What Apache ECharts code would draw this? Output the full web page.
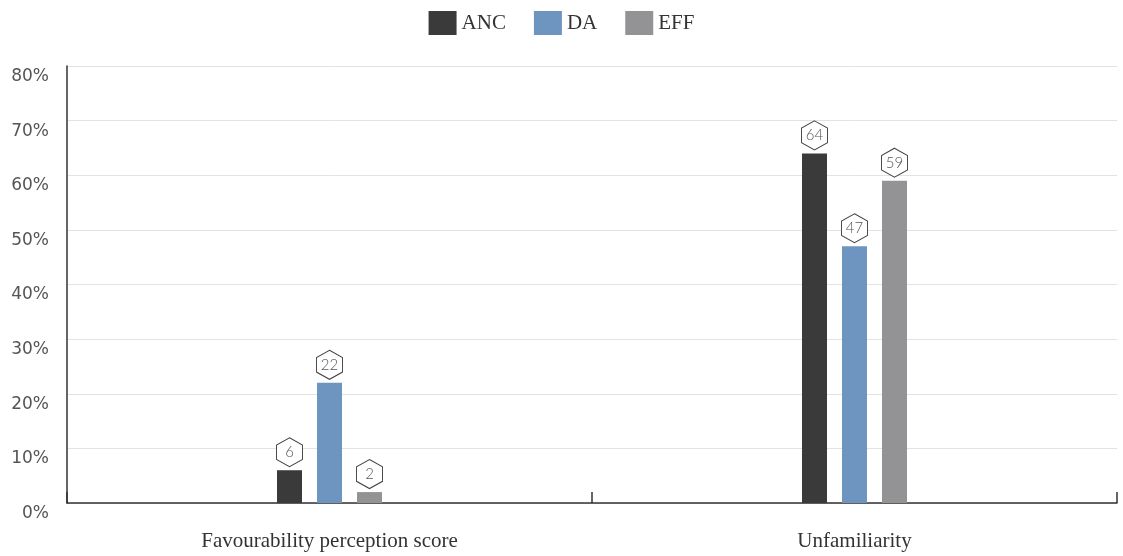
<!DOCTYPE html>
<html><head><meta charset="utf-8">
<script src="https://cdn.jsdelivr.net/npm/echarts@6/dist/echarts.min.js"></script>
<style>html,body{margin:0;padding:0;background:#fff}#c{width:1123px;height:556px}</style>
</head><body><div id="c"></div>
<script>
const categories = ['Favourability perception score', 'Unfamiliarity'];
const seriesNames = ['ANC', 'DA', 'EFF'];
const ancValues = [6, 64];
const daValues = [22, 47];
const effValues = [2, 59];
const yTicks = [0, 10, 20, 30, 40, 50, 60, 70, 80];
const colors = ['#3a3a3a', '#6d95bf', '#939396'];

const hex = 'path://M13,0 L26,7.25 L26,21.75 L13,29 L0,21.75 L0,7.25 Z';
function mk(name, vals, color) {
  return {
    name, type: 'bar', data: vals, barWidth: 25, barGap: '60%',
    itemStyle: { color },
    markPoint: {
      symbol: hex, symbolSize: [26, 29], symbolOffset: [0, -18],
      itemStyle: { color: '#fff', borderColor: '#444', borderWidth: 1 },
      label: { show: true, color: '#555', fontFamily: 'Lato, "Noto Sans", sans-serif', fontWeight: 300, fontSize: 15,
        formatter: p => p.value },
      data: vals.map((v, i) => ({ coord: [categories[i], v], value: v }))
    }
  };
}
const chart = echarts.init(document.getElementById('c'));
chart.setOption({
  animation: false,
  legend: {
    top: 6, left: 'center', itemWidth: 28, itemHeight: 24, itemGap: 28,
    icon: 'rect',
    textStyle: { fontFamily: '"Liberation Serif", "DejaVu Serif", serif', fontSize: 21, color: '#333' },
    data: seriesNames
  },
  grid: { left: 67, right: 6, top: 66, bottom: 53 },
  xAxis: {
    type: 'category', data: categories,
    axisLine: { lineStyle: { color: '#333', width: 1.5 } },
    axisTick: { show: true, inside: true, length: 11, lineStyle: { color: '#333', width: 1.5 } },
    axisLabel: { margin: 28, fontFamily: '"Liberation Serif", "DejaVu Serif", serif', fontSize: 21, color: '#333' }
  },
  yAxis: {
    type: 'value', min: 0, max: 80, interval: 10,
    axisLine: { show: true, lineStyle: { color: '#333', width: 1.5 } },
    splitLine: { lineStyle: { color: '#e2e2e2', width: 1 } },
    axisLabel: { margin: 18, verticalAlign: 'top', padding: [2, 0, 0, 0], fontFamily: '"DejaVu Sans", sans-serif', fontSize: 17, color: '#555',
      formatter: v => yTicks.includes(v) ? v + '%' : '' }
  },
  series: [
    mk(seriesNames[0], ancValues, colors[0]),
    mk(seriesNames[1], daValues, colors[1]),
    mk(seriesNames[2], effValues, colors[2])
  ]
});
</script></body></html>
